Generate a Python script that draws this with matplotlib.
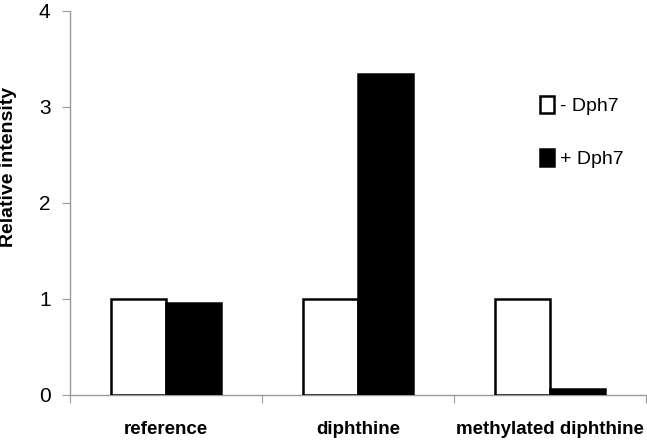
import numpy as np
import matplotlib
matplotlib.use('Agg')
import matplotlib.pyplot as plt

plt.rcParams['font.family'] = ['Liberation Sans', 'DejaVu Sans']

# 데이터
categories = ["reference", "diphthine", "methylated diphthine"]
minus_dph7 = [1.0, 1.0, 1.0]
plus_dph7 = [0.96, 3.34, 0.06]
series_labels = ["- Dph7", "+ Dph7"]

fig = plt.figure(figsize=(6.47, 4.42), dpi=100)
ax = fig.add_axes([70 / 647, 47 / 442, 576 / 647, 384 / 442])

x = np.arange(len(categories)) + 0.5
w = 0.286
ax.bar(x - w / 2, minus_dph7, w, color='white', edgecolor='black', linewidth=1.8,
       label=series_labels[0], zorder=3)
ax.bar(x + w / 2, plus_dph7, w, color='black', edgecolor='black', linewidth=1.8,
       label=series_labels[1], zorder=3)

ax.set_xlim(0, len(categories))
ax.set_ylim(0, 4)
ax.set_yticks([0, 1, 2, 3, 4])
ax.set_xticks(np.arange(len(categories) + 1))
ax.set_xticklabels([])
ax.set_xticks(x, minor=True)
ax.set_xticklabels(categories, minor=True, fontsize=13.5, fontweight='bold')
ax.tick_params(axis='x', which='minor', length=0, pad=19)
ax.tick_params(axis='x', which='major', length=6, color='#999999', direction='out')
ax.tick_params(axis='y', length=6, color='#999999', direction='out', labelsize=15, pad=8)

for s in ['top', 'right']:
    ax.spines[s].set_visible(False)
for s in ['left', 'bottom']:
    ax.spines[s].set_color('#999999')
    ax.spines[s].set_linewidth(1.0)

ax.set_ylabel("Relative intensity", fontsize=14, fontweight='bold')
ax.yaxis.set_label_coords(-0.092, 0.595)

ax.legend(loc='upper left', bbox_to_anchor=(0.786, 0.825), frameon=False, fontsize=14,
          handlelength=0.7, handleheight=1.0, handletextpad=0.3, labelspacing=1.75)

fig.savefig('out.png', dpi=100)
